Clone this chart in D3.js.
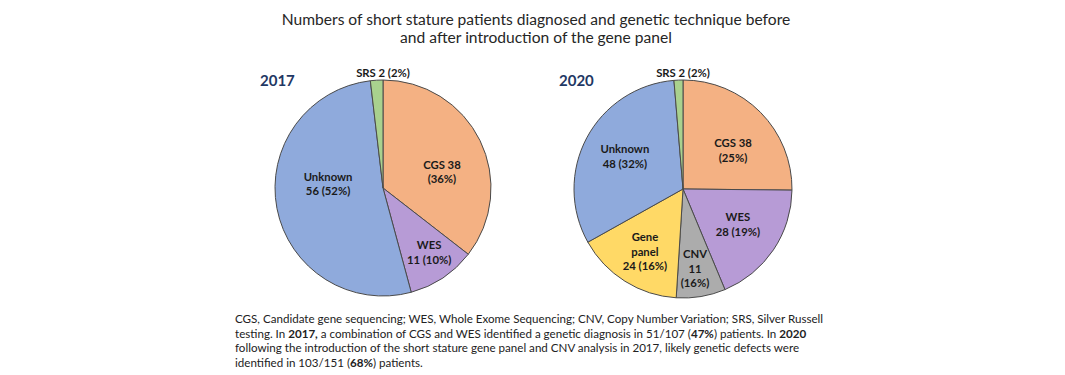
<!DOCTYPE html>
<html>
<head>
<meta charset="utf-8">
<script src="https://cdn.jsdelivr.net/npm/d3@7"></script>
<style>
  body { margin: 0; background: #fff; }
  svg { display: block; font-family: Lato, "Open Sans", sans-serif; }
</style>
</head>
<body>
<div id="chart"></div>
<script>
// data
const categories2017 = ["CGS", "WES", "Unknown", "SRS"];
const values2017 = [38, 11, 56, 2];
const labels2017 = [["CGS 38", "(36%)"], ["WES", "11 (10%)"], ["Unknown", "56 (52%)"], ["SRS 2 (2%)"]];

const categories2020 = ["CGS", "WES", "CNV", "Gene panel", "Unknown", "SRS"];
const values2020 = [38, 28, 11, 24, 48, 2];
const labels2020 = [["CGS 38", "(25%)"], ["WES", "28 (19%)"], ["CNV", "11", "(16%)"], ["Gene", "panel", "24 (16%)"], ["Unknown", "48 (32%)"], ["SRS 2 (2%)"]];

const titleLines = [
  "Numbers of short stature patients diagnosed and genetic technique before",
  "and after introduction of the gene panel"
];
// footnote, **bold** parts
const noteLines = [
  "CGS, Candidate gene sequencing; WES, Whole Exome Sequencing; CNV, Copy Number Variation; SRS, Silver Russell",
  "testing. In **2017,** a combination of CGS and WES identified a genetic diagnosis in 51/107 (**47%**) patients. In **2020**",
  "following the introduction of the short stature gene panel and CNV analysis in 2017, likely genetic defects were",
  "identified in 103/151 (**68%**) patients."
];

const color = d3.scaleOrdinal()
  .domain(["CGS", "WES", "CNV", "Gene panel", "Unknown", "SRS"])
  .range(["#f4b183", "#b79bd6", "#acacac", "#ffd966", "#8faadc", "#a9d18e"]);

// label placement: [radius fraction, angle nudge in degrees]
const labelPos = {
  "2017": { CGS: [0.565, 11], WES: [0.733, -2], Unknown: [0.51, 15] },
  "2020": { CGS: [0.58, 7], WES: [0.60, -1], CNV: [0.74, 1], "Gene panel": [0.675, -1], Unknown: [0.61, 1] }
};

const W = 1065, H = 375;
const svg = d3.select("#chart").append("svg")
  .attr("width", W).attr("height", H);

svg.append("g").selectAll("text")
  .data(titleLines)
  .join("text")
  .attr("x", 536)
  .attr("y", (d, i) => 25 + i * 18)
  .attr("text-anchor", "middle")
  .attr("font-size", 15.6)
  .attr("fill", "#262626")
  .text(d => d);

function drawPie(year, cx, cy, r, cats, vals, labels) {
  const g = svg.append("g").attr("transform", `translate(${cx},${cy})`);
  const pie = d3.pie().sort(null).value(d => d.v);
  const arcs = pie(cats.map((c, i) => ({ c, v: vals[i], lab: labels[i] })));
  const arc = d3.arc().innerRadius(0).outerRadius(r);

  g.selectAll("path")
    .data(arcs)
    .join("path")
    .attr("d", arc)
    .attr("fill", d => color(d.data.c))
    .attr("stroke", "#4a4a4a")
    .attr("stroke-width", 1);

  arcs.forEach(d => {
    let x, y;
    const lines = d.data.lab;
    const lh = 14.5;
    if (d.data.c === "SRS") {
      x = 0; y = -r - 7;
    } else {
      const p = labelPos[year][d.data.c];
      const a = (d.startAngle + d.endAngle) / 2 + p[1] * Math.PI / 180;
      x = Math.sin(a) * r * p[0];
      y = -Math.cos(a) * r * p[0];
    }
    const t = g.append("text")
      .attr("text-anchor", "middle")
      .attr("font-size", 11.3)
      .attr("font-weight", "bold")
      .attr("fill", "#1a1a1a");
    lines.forEach((s, i) => {
      t.append("tspan")
        .attr("x", x)
        .attr("y", y + (i - (lines.length - 1) / 2) * lh)
        .attr("dy", "0.35em")
        .text(s);
    });
  });

  svg.append("text")
    .attr("x", cx - r - 15)
    .attr("y", 86)
    .attr("font-size", 15)
    .attr("font-weight", "bold")
    .attr("fill", "#1f3864")
    .text(year);
}

drawPie("2017", 383, 188, 108, categories2017, values2017, labels2017);
drawPie("2020", 683, 189, 109, categories2020, values2020, labels2020);

const note = svg.append("g");
noteLines.forEach((line, i) => {
  const t = note.append("text")
    .attr("x", 235)
    .attr("y", 323 + i * 14.5)
    .attr("font-size", 11.6)
    .attr("fill", "#222");
  line.split("**").forEach((part, j) => {
    t.append("tspan")
      .attr("font-weight", j % 2 ? "bold" : null)
      .text(part);
  });
});
</script>
</body>
</html>
